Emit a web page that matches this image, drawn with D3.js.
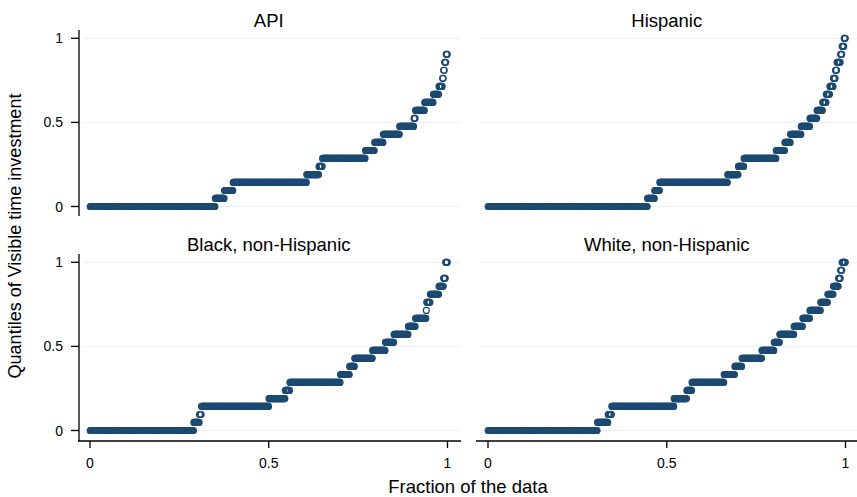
<!DOCTYPE html>
<html>
<head>
<meta charset="utf-8">
<script src="https://cdn.jsdelivr.net/npm/d3@7"></script>
<style>
    body { margin: 0; background: #fff; }
    svg { display: block; font-family: 'Liberation Sans', Arial, sans-serif; }
    .grid { stroke: #e9f0f3; stroke-width: 1; }
    .axisLine { stroke: #000; stroke-width: 1.3; fill: none; }
    .marker { fill: none; stroke: #1c4a73; stroke-width: 1.2; }
</style>
</head>
<body>
<svg id="chart" width="857" height="497"></svg>
<script>
// panel titles, in drawing order (row by row)
const groups = ['API', 'Hispanic', 'Black, non-Hispanic', 'White, non-Hispanic'];

// quantile levels of visible time investment and the fraction of the data reached at the end of each level
const apiValues = [0, 0.048, 0.095, 0.143, 0.19, 0.238, 0.286, 0.333, 0.381, 0.429, 0.476, 0.524, 0.571, 0.619, 0.667, 0.714, 0.762, 0.81, 0.857, 0.905];
const apiShare  = [0.35, 0.375, 0.40, 0.605, 0.64, 0.65, 0.77, 0.795, 0.82, 0.865, 0.905, 0.91, 0.935, 0.96, 0.975, 0.985, 0.988, 0.992, 0.995, 1];

const hispValues = [0, 0.048, 0.095, 0.143, 0.19, 0.238, 0.286, 0.333, 0.381, 0.429, 0.476, 0.524, 0.571, 0.619, 0.667, 0.714, 0.762, 0.81, 0.857, 0.905, 0.952, 1];
const hispShare  = [0.445, 0.465, 0.48, 0.67, 0.70, 0.715, 0.805, 0.83, 0.845, 0.875, 0.90, 0.92, 0.935, 0.945, 0.955, 0.965, 0.972, 0.976, 0.985, 0.99, 0.995, 1];

const blackValues = [0, 0.048, 0.095, 0.143, 0.19, 0.238, 0.286, 0.333, 0.381, 0.429, 0.476, 0.524, 0.571, 0.619, 0.667, 0.714, 0.762, 0.81, 0.857, 0.905, 1];
const blackShare  = [0.29, 0.305, 0.312, 0.50, 0.545, 0.558, 0.70, 0.725, 0.74, 0.79, 0.825, 0.85, 0.89, 0.91, 0.94, 0.942, 0.952, 0.975, 0.988, 0.994, 1];

const whiteValues = [0, 0.048, 0.095, 0.143, 0.19, 0.238, 0.286, 0.333, 0.381, 0.429, 0.476, 0.524, 0.571, 0.619, 0.667, 0.714, 0.762, 0.81, 0.857, 0.905, 0.952, 1];
const whiteShare  = [0.305, 0.335, 0.345, 0.52, 0.555, 0.57, 0.66, 0.69, 0.71, 0.765, 0.80, 0.815, 0.855, 0.88, 0.90, 0.93, 0.95, 0.965, 0.98, 0.986, 0.99, 1];

// axis ticks
const xTicks = [0, 0.5, 1];
const xTickLabels = ['0', '0.5', '1'];
const yTicks = [0, 0.5, 1];
const yTickLabels = ['0', '0.5', '1'];

const seriesValues = [apiValues, hispValues, blackValues, whiteValues];
const seriesShare = [apiShare, hispShare, blackShare, whiteShare];

const nObs = 700;   // markers per panel

const svg = d3.select('#chart');

const panels = groups.map((name, i) => {
    const col = i % 2, row = Math.floor(i / 2);
    const left = col ? 477 : 79;
    const top = row ? 254 : 30;
    const bottom = row ? 441 : 216;
    return {
        name, col, row, left, top, bottom,
        x: d3.scaleLinear().domain([0, 1]).range([left + 11, left + 368.5]),
        y: d3.scaleLinear().domain([0, 1]).range([top + 176.5, top + 8.3]),
        values: seriesValues[i],
        share: seriesShare[i]
    };
});

panels.forEach(p => {
    const g = svg.append('g').attr('class', 'panel');

    // light grid lines
    g.selectAll('line.grid')
        .data(yTicks)
        .join('line')
        .attr('class', 'grid')
        .attr('x1', p.x(-0.02))
        .attr('x2', p.x(1.035))
        .attr('y1', d => p.y(d))
        .attr('y2', d => p.y(d));

    // one marker per observation, sorted: value of the level the fraction falls in
    const obs = d3.range(nObs).map(k => {
        const f = (k + 0.5) / nObs;
        const idx = Math.min(d3.bisectLeft(p.share, f), p.values.length - 1);
        return {f, v: p.values[idx]};
    });
    g.selectAll('circle.marker')
        .data(obs)
        .join('circle')
        .attr('class', 'marker')
        .attr('cx', d => p.x(d.f))
        .attr('cy', d => p.y(d.v))
        .attr('r', 3);

    // y axis only on the left column
    if (p.col === 0) {
        g.append('line')
            .attr('class', 'axisLine')
            .attr('x1', p.left).attr('x2', p.left)
            .attr('y1', p.top).attr('y2', p.bottom);
        g.selectAll('line.ytick')
            .data(yTicks)
            .join('line')
            .attr('class', 'axisLine ytick')
            .attr('x1', p.left - 8).attr('x2', p.left)
            .attr('y1', d => p.y(d)).attr('y2', d => p.y(d));
        g.selectAll('text.ylab')
            .data(yTicks)
            .join('text')
            .attr('class', 'ylab')
            .attr('x', p.left - 16)
            .attr('y', d => p.y(d) + 5)
            .attr('text-anchor', 'end')
            .attr('font-size', 14)
            .text((d, i) => yTickLabels[i]);
    }

    // x axis only on the bottom row
    if (p.row === 1) {
        g.append('line')
            .attr('class', 'axisLine')
            .attr('x1', p.left - 1).attr('x2', p.col ? 857 : 461)
            .attr('y1', p.bottom).attr('y2', p.bottom);
        g.selectAll('line.xtick')
            .data(xTicks)
            .join('line')
            .attr('class', 'axisLine xtick')
            .attr('x1', d => p.x(d)).attr('x2', d => p.x(d))
            .attr('y1', p.bottom).attr('y2', p.bottom + 7);
        g.selectAll('text.xlab')
            .data(xTicks)
            .join('text')
            .attr('class', 'xlab')
            .attr('x', d => p.x(d))
            .attr('y', p.bottom + 27)
            .attr('text-anchor', 'middle')
            .attr('font-size', 14)
            .text((d, i) => xTickLabels[i]);
    }

    // panel title
    g.append('text')
        .attr('x', p.x(0.5))
        .attr('y', p.top - 3)
        .attr('text-anchor', 'middle')
        .attr('font-size', 18.5)
        .text(p.name);
});

// shared axis titles
svg.append('text')
    .attr('x', 468)
    .attr('y', 493)
    .attr('text-anchor', 'middle')
    .attr('font-size', 18.5)
    .text('Fraction of the data');

svg.append('text')
    .attr('transform', 'translate(21,236) rotate(-90)')
    .attr('text-anchor', 'middle')
    .attr('font-size', 18)
    .text('Quantiles of Visible time investment');
</script>
</body>
</html>
